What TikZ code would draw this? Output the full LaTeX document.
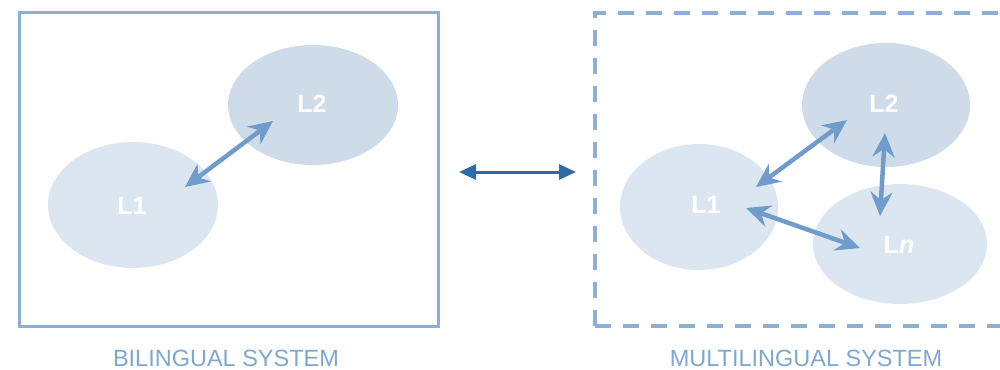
\documentclass[tikz,border=0pt]{standalone}
\usepackage{fontspec}
\setmainfont{Liberation Sans}
\usetikzlibrary{shapes.geometric,arrows.meta}
\definecolor{boxc}{HTML}{8DAFD3}
\definecolor{fillA}{HTML}{DCE6F1}
\definecolor{fillB}{HTML}{CEDCEA}
\definecolor{arrc}{HTML}{6F9CCB}
\definecolor{midc}{HTML}{2F6AA9}
\definecolor{labc}{HTML}{7FA7D0}
\begin{document}
\begin{tikzpicture}[x=1pt,y=-1pt,
  lang/.style={ellipse,draw=none,inner sep=0pt,text=white,font=\bfseries\fontsize{25}{27}\selectfont},
  link/.style={arrc,line width=4.5pt,{Stealth[length=24pt,width=22pt,inset=8pt]}-{Stealth[length=24pt,width=22pt,inset=8pt]}},
  caption/.style={text=labc,inner sep=0pt,anchor=base,font=\fontsize{23.5}{25}\selectfont}]
\useasboundingbox (0,0) rectangle (1000,369);
\begin{scope}
\clip (0,0) rectangle (1000,369);
% left box
\draw[boxc,line width=3pt] (19,13) rectangle (438,326);
% right dashed box
\draw[boxc,line width=3.5pt,dash pattern=on 16pt off 12pt] (595,326) -- (595,13) -- (1010,13);
\draw[boxc,line width=3.5pt,dash pattern=on 16pt off 12pt] (595,326) -- (1010,326);
% ellipses
\node[lang,fill=fillA,minimum width=170pt,minimum height=126pt] (bl1) at (133,205) {};
\node[lang,fill=fillB,minimum width=170pt,minimum height=120pt] (bl2) at (313,105) {};
\node[lang,fill=fillA,minimum width=158pt,minimum height=126pt] (ml1) at (699,207) {};
\node[lang,fill=fillB,minimum width=168pt,minimum height=124pt] (ml2) at (886,105) {};
\node[lang,fill=fillA,minimum width=174pt,minimum height=120pt] (mln) at (900,244) {};
% labels
\node[lang] (tbl1) at (132,206) {L1};
\node[lang] (tbl2) at (312,104) {L2};
\node[lang] (tml1) at (706,205) {L1};
\node[lang] (tml2) at (884,104) {L2};
\node[lang] (tmln) at (899,245) {L\textit{n}};
% arrow end coordinates
\coordinate (a1) at (185,187);
\coordinate (a2) at (273,121);
\coordinate (b1) at (756,187);
\coordinate (b2) at (847,120);
\coordinate (c1) at (885,133);
\coordinate (c2) at (880,216);
\coordinate (d1) at (746,208);
\coordinate (d2) at (860,248);
\draw[link] (a1) -- (a2);
\draw[link] (b1) -- (b2);
\draw[link] (c1) -- (c2);
\draw[link] (d1) -- (d2);
% middle arrow
\coordinate (m1) at (459,172);
\coordinate (m2) at (576,172);
\draw[midc,line width=3pt,{Triangle[length=17pt,width=15pt]}-{Triangle[length=17pt,width=15pt]}] (m1) -- (m2);
% captions
\node[caption] (cap1) at (226,366) {BILINGUAL SYSTEM};
\node[caption] (cap2) at (806,366) {MULTILINGUAL SYSTEM};
\end{scope}
\end{tikzpicture}
\end{document}
